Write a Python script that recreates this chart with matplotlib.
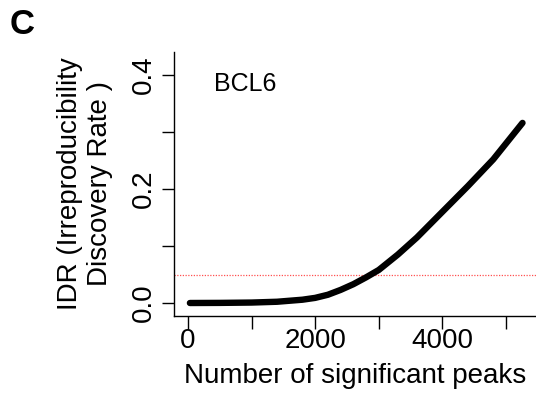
import matplotlib
matplotlib.use("Agg")
import matplotlib.pyplot as plt

plt.rcParams['font.family'] = ['Liberation Sans', 'DejaVu Sans']

# IDR curve for BCL6
peaks = [30, 500, 1000, 1400, 1800, 2000, 2200, 2400, 2600, 2800, 3000,
         3300, 3600, 4000, 4400, 4800, 5260]
idr = [0.0, 0.0002, 0.0008, 0.0022, 0.0058, 0.009, 0.0145, 0.023, 0.033,
       0.045, 0.058, 0.085, 0.115, 0.160, 0.205, 0.252, 0.316]
idr_cutoff = 0.05
xticks = [0, 1000, 2000, 3000, 4000, 5000]
xticklabels = ['0', '', '2000', '', '4000', '']
yticks = [0.0, 0.1, 0.2, 0.3, 0.4]
yticklabels = ['0.0', '', '0.2', '', '0.4']

fig = plt.figure(figsize=(5.36, 3.94), dpi=100)
ax = fig.add_axes([174/536, 1 - 316/394, 1 - 174/536, (316 - 52)/394])

ax.axhline(idr_cutoff, color='#ff5050', lw=0.9, ls=(0, (1, 1.2)))
ax.plot(peaks, idr, color='black', lw=4.6, solid_capstyle='round',
        solid_joinstyle='round')

ax.set_xlim(-220, 5472)
ax.set_ylim(-0.0228, 0.4404)
ax.spines['top'].set_visible(False)
ax.spines['right'].set_visible(False)
for s in ('left', 'bottom'):
    ax.spines[s].set_linewidth(1.0)

ax.set_xticks(xticks)
ax.set_xticklabels(xticklabels, fontsize=20)
ax.set_yticks(yticks)
ax.set_yticklabels(yticklabels, fontsize=20, rotation=90, va='center')
ax.tick_params(axis='both', length=9, width=1.0)
ax.tick_params(axis='x', pad=0)
ax.tick_params(axis='y', pad=3)

ax.set_xlabel('Number of significant peaks', fontsize=20, labelpad=6)
ax.set_ylabel('IDR (Irreproducibility\nDiscovery Rate )', fontsize=20,
              linespacing=1.2, labelpad=13)

ax.text(410, 0.385, 'BCL6', fontsize=18, va='center', ha='left')

fig.text(10/536, 1 - 25/394, 'C', fontsize=25, fontweight='bold',
         va='center', ha='left')

fig.savefig('out.png', dpi=100)
